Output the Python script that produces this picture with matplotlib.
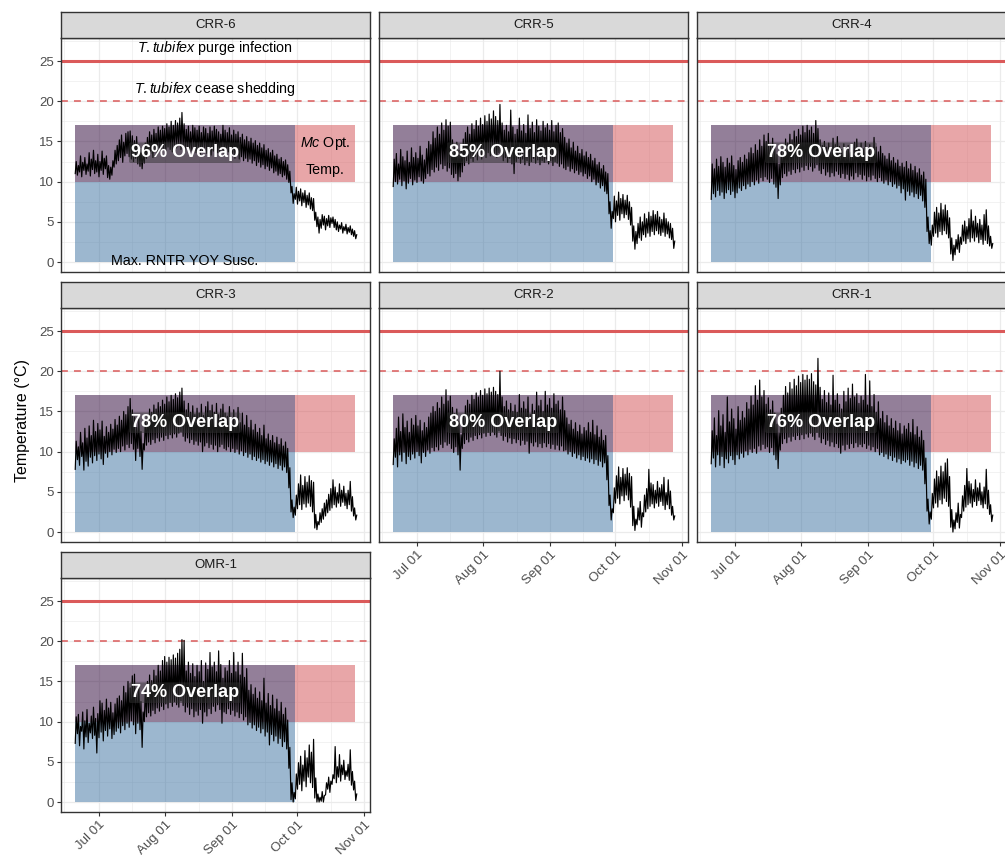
import numpy as np
import matplotlib
matplotlib.use('Agg')
import matplotlib.pyplot as plt
import matplotlib.dates as mdates

plt.rcParams['font.family'] = ['Liberation Sans', 'DejaVu Sans']
plt.rcParams['mathtext.fontset'] = 'custom'
plt.rcParams['mathtext.rm'] = 'Liberation Sans'
plt.rcParams['mathtext.it'] = 'Liberation Sans:italic'

# logger record starts Jun 20, one low/high pair per day
start = '2021-06-20'
susc_end = '2021-09-30'
opt_end = '2021-10-28'

sites = ['CRR-6', 'CRR-5', 'CRR-4', 'CRR-3', 'CRR-2', 'CRR-1', 'OMR-1']
overlap_pct = [96, 85, 78, 78, 80, 76, 74]

purge_temp = 25
shed_temp = 20
susc_range = (0, 17)
mc_opt_range = (10, 17)

crr6_lo = [11.0, 10.8, 11.2, 10.6, 11.4, 10.9, 11.3, 10.7, 11.5, 11.0,
           11.2, 10.6, 11.4, 10.9, 11.6, 10.5, 10.3, 10.8, 11.8, 12.2,
           12.6, 13.0, 12.4, 13.2, 13.5, 13.1, 12.8, 12.5, 12.9, 12.2,
           11.9, 11.6, 12.3, 12.9, 13.2, 13.5, 13.0, 13.8, 13.4, 13.9,
           13.6, 14.1, 13.8, 14.3, 14.0, 13.7, 14.4, 14.2, 14.6, 14.0,
           14.3, 13.8, 14.1, 13.5, 13.9, 14.2, 13.6, 14.0, 13.4, 13.8,
           14.1, 13.5, 13.9, 13.3, 13.8, 14.0, 13.6, 13.2, 13.9, 13.5,
           13.2, 13.7, 13.0, 13.4, 12.9, 13.3, 12.8, 13.1, 12.6, 12.9,
           12.5, 12.8, 12.3, 12.6, 12.0, 12.4, 11.8, 12.1, 11.6, 11.9,
           11.4, 11.7, 11.1, 11.3, 10.8, 11.0, 10.6, 10.8, 10.3, 9.9,
           8.6, 7.3, 7.8, 7.2, 7.6, 7.0, 7.4, 6.8, 7.1, 6.6,
           6.4, 5.2, 4.4, 3.6, 4.2, 4.6, 4.0, 4.5, 4.3, 4.8,
           4.3, 4.0, 3.8, 4.1, 3.6, 3.9, 3.5, 3.7, 3.4, 3.2, 2.9]
crr6_hi = [12.5, 12.0, 13.2, 12.4, 13.0, 12.2, 13.6, 12.8, 13.9, 12.6,
           13.4, 12.5, 13.8, 12.9, 13.2, 12.0, 11.8, 12.6, 13.9, 14.5,
           15.2, 15.8, 14.9, 16.0, 16.2, 16.3, 15.7, 15.1, 15.6, 14.6,
           14.0, 13.6, 14.8, 15.5, 16.2, 15.8, 16.5, 16.0, 16.8, 16.4,
           16.9, 16.6, 17.2, 16.8, 17.5, 17.0, 17.6, 17.3, 17.9, 18.6,
           17.2, 16.5, 16.9, 16.2, 17.0, 16.7, 16.4, 16.9, 16.1, 16.8,
           16.6, 16.0, 16.8, 16.3, 16.9, 16.5, 16.2, 15.9, 17.0, 16.4,
           16.1, 16.7, 15.8, 16.4, 15.9, 16.2, 15.5, 15.9, 15.2, 15.6,
           15.0, 15.4, 14.8, 15.1, 14.5, 14.8, 14.2, 14.6, 13.9, 14.1,
           13.6, 13.9, 13.2, 13.4, 12.8, 13.0, 12.5, 12.7, 12.1, 11.3,
           9.4, 8.5, 9.3, 8.8, 9.1, 8.6, 8.9, 8.3, 8.6, 8.0,
           7.9, 6.2, 5.6, 5.3, 5.9, 5.7, 5.4, 5.8, 5.5, 5.6,
           5.3, 5.0, 4.6, 4.9, 4.4, 4.7, 4.3, 4.5, 4.1, 3.9, 3.4]

crr5_lo = [9.4, 10.0, 9.7, 10.3, 9.5, 10.1, 9.1, 9.8, 10.4, 9.6,
           10.2, 9.9, 10.6, 10.1, 9.8, 10.4, 11.0, 10.7, 11.5, 11.2,
           11.8, 11.4, 12.2, 11.6, 12.0, 11.3, 11.7, 10.9, 10.5, 11.0,
           10.1, 10.6, 11.2, 12.0, 12.6, 12.2, 12.9, 12.5, 13.1, 12.7,
           13.3, 12.8, 13.5, 13.0, 13.6, 13.2, 13.8, 13.4, 13.0, 13.6,
           13.2, 12.6, 13.0, 12.4, 12.9, 12.2, 11.0, 12.5, 12.9, 12.3,
           12.8, 12.1, 12.6, 12.0, 12.5, 12.9, 12.3, 12.7, 12.1, 12.6,
           12.4, 12.8, 12.2, 12.6, 12.0, 12.5, 12.3, 11.9, 12.2, 11.7,
           11.5, 11.9, 11.3, 11.6, 11.1, 11.4, 10.9, 11.2, 10.7, 11.0,
           10.4, 10.7, 10.0, 10.3, 9.6, 9.9, 9.2, 9.5, 8.8, 8.5,
           6.0, 4.2, 5.4, 5.0, 5.8, 5.2, 6.0, 5.5, 5.9, 5.3,
           4.6, 2.6, 1.6, 2.3, 3.0, 2.7, 3.4, 3.1, 3.6, 3.2,
           3.8, 3.4, 3.9, 3.5, 3.3, 3.7, 3.2, 3.5, 3.0, 2.8, 1.7]
crr5_hi = [12.8, 13.5, 12.2, 14.0, 13.1, 12.6, 13.8, 12.4, 14.2, 13.0,
           13.6, 12.9, 14.4, 13.3, 12.7, 14.1, 15.0, 14.6, 16.2, 15.4,
           16.8, 15.9, 17.3, 16.4, 17.7, 16.9, 17.4, 15.2, 14.3, 14.9,
           13.9, 14.6, 15.3, 16.1, 16.8, 15.9, 17.2, 16.5, 17.6, 16.9,
           17.9, 17.1, 18.2, 17.5, 18.4, 17.8, 18.8, 18.1, 17.6, 19.6,
           17.3, 16.4, 17.0, 16.2, 18.9, 16.8, 15.9, 16.5, 17.9, 16.3,
           17.1, 16.0, 18.3, 16.6, 17.4, 16.1, 17.7, 16.9, 16.3, 17.5,
           16.7, 17.2, 16.4, 17.6, 16.2, 17.0, 17.3, 16.1, 16.6, 15.5,
           14.8, 15.3, 14.2, 14.9, 13.8, 14.4, 13.5, 14.0, 13.2, 13.7,
           13.0, 13.4, 12.6, 12.9, 12.1, 12.4, 11.6, 12.0, 11.2, 11.0,
           7.5, 6.3, 8.2, 7.6, 8.7, 7.9, 8.4, 7.7, 8.3, 7.5,
           6.8, 4.5, 3.8, 4.8, 5.6, 5.0, 6.0, 5.4, 6.2, 5.7,
           6.4, 5.9, 6.3, 5.6, 5.3, 6.1, 5.4, 5.0, 4.8, 4.2, 2.6]

crr4_lo = [7.8, 8.5, 8.1, 8.9, 8.3, 8.7, 7.9, 8.6, 9.0, 8.4,
           8.8, 8.0, 8.6, 9.2, 8.9, 9.5, 9.1, 9.7, 9.4, 10.0,
           9.6, 10.2, 9.8, 10.5, 10.1, 10.6, 10.3, 9.9, 10.4, 9.7,
           9.3, 7.9, 9.6, 10.5, 11.0, 10.7, 11.3, 10.9, 11.5, 11.1,
           11.6, 11.2, 11.8, 11.4, 12.0, 11.5, 11.9, 11.3, 11.7, 12.1,
           11.4, 11.0, 11.6, 10.8, 11.2, 10.6, 11.1, 10.7, 11.3, 10.9,
           10.5, 11.0, 10.4, 10.9, 10.2, 10.7, 10.3, 11.1, 10.6, 10.9,
           10.3, 10.8, 10.1, 10.6, 10.2, 10.8, 10.4, 10.0, 10.5, 10.1,
           9.8, 10.2, 9.6, 10.0, 9.4, 9.7, 9.2, 9.5, 8.6, 9.1,
           7.7, 8.8, 8.3, 8.7, 8.1, 8.5, 7.9, 8.3, 7.6, 6.8,
           3.8, 2.3, 2.1, 3.2, 3.6, 3.1, 3.8, 3.4, 3.9, 3.5,
           3.0, 1.0, 0.2, 0.9, 1.6, 1.2, 2.2, 2.6, 2.3, 2.9,
           2.5, 3.0, 2.6, 3.1, 2.4, 2.8, 2.2, 2.7, 2.3, 2.0, 1.7]
crr4_hi = [12.2, 11.6, 12.8, 11.9, 13.1, 12.4, 11.8, 12.9, 12.3, 13.2,
           12.0, 11.5, 12.6, 13.0, 12.4, 13.3, 12.8, 13.6, 14.2, 13.5,
           14.6, 13.9, 15.2, 14.4, 15.8, 15.0, 16.0, 14.6, 15.4, 14.1,
           13.4, 12.2, 13.8, 14.6, 15.3, 14.8, 15.9, 15.2, 16.3, 15.6,
           16.5, 15.8, 16.9, 16.1, 17.0, 16.4, 16.8, 16.0, 17.6, 16.6,
           15.2, 14.5, 15.0, 14.3, 14.8, 14.1, 15.4, 14.6, 15.6, 14.4,
           14.0, 14.7, 13.8, 14.5, 13.6, 14.3, 14.9, 15.3, 14.2, 14.8,
           14.1, 15.0, 13.9, 14.6, 14.0, 15.5, 14.3, 13.7, 14.4, 13.5,
           13.2, 12.8, 13.5, 12.6, 13.0, 12.3, 12.7, 11.9, 12.3, 11.8,
           12.5, 11.6, 12.2, 11.4, 11.9, 11.1, 11.6, 10.8, 11.2, 10.3,
           5.6, 3.9, 4.6, 6.2, 6.8, 6.1, 7.3, 6.5, 7.1, 6.4,
           5.5, 3.0, 2.1, 2.8, 3.4, 3.1, 4.6, 5.1, 4.4, 5.4,
           6.5, 5.1, 5.7, 4.8, 5.3, 4.6, 5.9, 6.5, 4.5, 3.2, 2.3]

crr3_lo = [7.8, 9.0, 8.3, 9.4, 7.7, 8.8, 8.2, 9.3, 8.6, 9.5,
           8.9, 9.7, 9.1, 8.4, 9.8, 9.3, 10.0, 9.6, 10.3, 9.9,
           10.4, 10.0, 10.7, 10.2, 10.9, 10.5, 11.0, 10.3, 8.9, 10.4,
           9.4, 7.8, 10.2, 10.8, 11.2, 10.9, 11.5, 11.1, 11.7, 11.3,
           11.8, 11.4, 12.0, 11.6, 12.1, 11.7, 12.2, 11.8, 12.3, 12.5,
           11.9, 11.3, 11.7, 11.1, 11.5, 10.9, 11.3, 10.8, 11.2, 10.0,
           10.7, 11.1, 10.5, 10.9, 10.3, 10.8, 10.0, 10.6, 10.9, 10.4,
           10.2, 10.6, 10.0, 10.4, 9.9, 10.3, 9.7, 10.1, 9.5, 9.9,
           9.3, 9.7, 9.0, 9.4, 8.9, 9.2, 8.7, 9.0, 8.5, 8.8,
           8.3, 8.7, 8.1, 8.5, 7.9, 8.3, 7.7, 8.1, 7.4, 5.5,
           2.5, 1.8, 2.1, 2.9, 3.4, 2.8, 3.5, 3.1, 3.6, 3.2,
           2.5, 0.5, 0.3, 0.9, 1.2, 1.6, 2.0, 2.4, 2.7, 3.0,
           3.4, 3.1, 3.6, 3.2, 3.7, 3.3, 2.9, 3.4, 2.6, 2.0, 1.5]
crr3_hi = [11.3, 10.6, 12.4, 11.1, 12.9, 11.7, 13.2, 12.0, 13.9, 12.5,
           13.5, 12.7, 13.8, 11.9, 13.1, 12.4, 13.4, 12.8, 14.0, 13.3,
           14.4, 13.9, 15.0, 14.6, 15.6, 16.6, 15.2, 14.3, 13.0, 14.1,
           12.5, 11.0, 13.8, 14.6, 15.3, 14.9, 15.8, 15.3, 16.1, 15.6,
           16.4, 15.9, 16.8, 16.2, 17.0, 16.5, 17.2, 16.7, 17.4, 17.9,
           16.3, 15.2, 16.0, 14.9, 15.7, 14.6, 15.4, 14.8, 15.9, 14.5,
           15.6, 16.2, 15.1, 15.8, 14.9, 16.0, 14.6, 15.3, 15.9, 14.8,
           14.4, 15.6, 14.1, 15.2, 13.9, 15.5, 13.6, 14.8, 13.3, 14.5,
           13.0, 13.9, 12.7, 13.4, 12.4, 12.9, 12.0, 13.3, 11.6, 12.2,
           11.4, 12.0, 11.1, 11.8, 10.9, 11.6, 10.7, 11.2, 10.4, 8.0,
           4.0, 3.1, 4.6, 6.0, 7.1, 5.8, 6.9, 6.2, 7.0, 6.4,
           6.2, 2.2, 1.3, 2.4, 2.9, 3.6, 4.0, 4.7, 5.4, 6.5,
           5.6, 4.9, 6.0, 5.2, 5.7, 4.8, 5.2, 6.3, 4.4, 3.0, 2.1]

crr2_lo = [8.4, 9.3, 8.1, 9.6, 8.8, 9.9, 8.5, 9.4, 9.0, 9.7,
           9.2, 10.0, 9.5, 8.6, 9.9, 9.4, 10.2, 9.8, 10.5, 10.1,
           10.6, 10.2, 10.9, 10.5, 11.2, 10.8, 11.0, 10.4, 9.9, 10.6,
           9.6, 7.7, 10.4, 11.0, 11.5, 11.2, 11.8, 11.4, 12.0, 11.6,
           12.1, 11.7, 12.3, 11.9, 12.4, 12.0, 12.5, 12.1, 11.8, 12.6,
           12.0, 11.4, 11.9, 11.2, 11.7, 11.0, 11.6, 11.1, 11.5, 10.8,
           11.4, 10.9, 11.3, 9.8, 11.1, 10.7, 11.2, 10.6, 11.0, 10.5,
           11.1, 10.6, 11.0, 10.4, 10.9, 10.3, 10.8, 10.2, 10.7, 10.1,
           10.2, 9.7, 10.0, 9.4, 9.8, 9.2, 9.6, 9.0, 9.4, 8.9,
           9.2, 8.7, 9.1, 8.5, 9.0, 8.3, 8.8, 8.1, 8.6, 6.5,
           3.3, 1.5, 2.4, 3.6, 4.2, 3.5, 4.5, 3.9, 4.6, 4.0,
           3.1, 0.8, 0.2, 0.9, 1.5, 0.6, 1.9, 2.5, 2.9, 3.2,
           3.5, 3.0, 3.6, 3.2, 3.8, 3.3, 2.8, 3.4, 2.9, 2.1, 1.5]
crr2_hi = [11.6, 12.9, 14.3, 12.5, 14.7, 13.0, 13.8, 12.4, 14.1, 13.3,
           14.5, 13.2, 13.9, 12.6, 13.6, 13.0, 14.3, 14.8, 15.6, 15.0,
           16.1, 15.4, 16.8, 15.9, 17.7, 16.3, 16.9, 15.5, 14.7, 15.3,
           13.8, 12.1, 14.6, 15.7, 16.4, 15.9, 17.0, 16.5, 17.3, 16.8,
           17.6, 17.0, 17.8, 17.2, 17.9, 17.4, 18.0, 17.5, 17.1, 20.0,
           16.8, 15.6, 16.3, 15.2, 16.0, 15.0, 15.8, 14.9, 17.1, 15.4,
           16.2, 15.3, 16.8, 14.6, 15.9, 15.1, 17.4, 15.7, 16.4, 15.0,
           17.5, 15.8, 16.6, 15.4, 17.2, 15.9, 16.3, 15.2, 16.8, 15.1,
           14.2, 13.4, 13.9, 12.8, 13.6, 12.5, 13.3, 12.2, 13.0, 12.6,
           13.6, 12.4, 13.9, 12.1, 13.2, 11.8, 12.7, 11.4, 12.0, 9.5,
           4.6, 2.9, 5.5, 7.0, 8.1, 6.8, 7.9, 7.2, 8.0, 7.3,
           6.9, 3.2, 1.6, 3.0, 3.8, 2.4, 4.6, 5.4, 7.8, 6.1,
           5.9, 5.2, 6.3, 5.5, 5.9, 6.8, 4.9, 6.5, 5.1, 3.2, 2.0]

crr1_lo = [8.5, 9.2, 8.1, 9.6, 8.3, 9.4, 8.0, 9.1, 8.6, 9.5,
           9.0, 8.4, 9.6, 9.1, 9.8, 9.3, 10.1, 9.6, 10.3, 9.9,
           10.4, 9.8, 10.7, 10.2, 10.9, 10.4, 10.6, 9.9, 10.5, 9.6,
           9.0, 7.9, 10.2, 11.0, 11.6, 11.1, 11.8, 11.3, 11.9, 11.5,
           12.0, 11.5, 12.1, 11.6, 12.2, 11.8, 12.3, 11.9, 11.5, 12.4,
           11.8, 11.1, 11.6, 10.9, 11.4, 10.7, 11.2, 10.6, 11.0, 10.5,
           9.8, 10.8, 10.2, 10.9, 10.4, 11.0, 10.5, 11.1, 10.6, 10.9,
           10.6, 11.0, 10.4, 10.8, 10.2, 10.6, 10.0, 10.4, 9.6, 9.9,
           9.4, 9.7, 9.1, 9.5, 8.9, 9.3, 8.7, 9.1, 8.5, 8.9,
           8.7, 9.0, 8.3, 8.8, 8.1, 8.6, 7.9, 8.3, 7.7, 6.0,
           2.6, 1.0, 1.6, 3.0, 3.6, 3.1, 4.0, 3.5, 4.2, 3.8,
           3.2, 0.6, 0.0, 0.4, 1.2, 0.5, 1.8, 2.6, 3.1, 3.4,
           3.6, 3.1, 3.8, 3.3, 3.9, 3.4, 3.0, 3.5, 2.9, 2.2, 1.3]
crr1_hi = [12.6, 14.2, 12.0, 15.1, 13.2, 14.6, 12.4, 16.8, 13.7, 15.3,
           14.1, 12.8, 15.6, 13.9, 15.0, 14.2, 16.1, 15.3, 16.9, 15.8,
           18.2, 16.4, 18.9, 16.8, 17.6, 15.9, 16.7, 15.2, 16.3, 14.8,
           13.4, 12.3, 15.4, 17.0, 18.1, 17.3, 18.6, 17.8, 19.0, 18.2,
           19.4, 18.6, 19.6, 18.9, 19.5, 19.0, 19.7, 18.7, 18.3, 21.6,
           18.0, 16.5, 17.6, 16.1, 17.3, 15.8, 19.5, 16.4, 17.2, 15.9,
           15.3, 17.5, 16.2, 17.9, 16.6, 18.4, 16.8, 17.2, 16.0, 16.9,
           16.4, 19.6, 15.8, 18.8, 15.6, 17.1, 14.9, 16.2, 14.1, 15.0,
           13.6, 14.5, 13.2, 14.1, 12.9, 13.8, 12.6, 13.5, 12.2, 13.2,
           12.8, 13.5, 12.4, 14.0, 12.1, 13.1, 11.8, 12.6, 11.4, 9.2,
           4.1, 2.5, 4.8, 6.6, 7.6, 6.9, 8.2, 7.5, 8.6, 9.1,
           6.9, 2.8, 1.5, 2.4, 3.6, 2.2, 4.5, 5.8, 7.9, 6.3,
           6.0, 5.3, 6.5, 5.5, 6.1, 5.0, 5.6, 7.8, 5.2, 3.4, 2.1]

omr1_lo = [7.3, 8.5, 7.0, 8.8, 6.6, 8.1, 7.4, 8.6, 7.9, 8.3,
           6.1, 8.0, 8.7, 7.6, 8.9, 8.2, 9.1, 7.9, 8.4, 8.8,
           9.2, 8.6, 9.5, 9.0, 9.8, 9.3, 10.1, 9.6, 8.5, 9.8,
           9.0, 6.8, 10.0, 10.6, 11.1, 10.7, 11.4, 11.0, 11.7, 11.3,
           11.9, 11.5, 12.2, 11.7, 12.4, 11.9, 12.5, 12.1, 11.8, 12.6,
           12.0, 11.2, 11.8, 10.9, 11.6, 10.6, 11.3, 10.8, 11.5, 9.8,
           11.2, 10.7, 11.6, 11.0, 11.9, 11.3, 12.1, 11.5, 9.8, 11.2,
           11.0, 11.6, 10.9, 11.4, 10.7, 11.2, 10.5, 11.0, 10.2, 10.6,
           9.6, 9.9, 9.2, 9.6, 8.9, 9.3, 8.6, 9.1, 8.2, 8.7,
           7.1, 8.4, 7.6, 8.2, 7.3, 7.9, 6.9, 7.5, 6.6, 4.2,
           0.3, 0.0, 0.4, 1.6, 2.2, 1.4, 2.6, 1.9, 3.1, 2.4,
           1.8, 0.5, 0.0, 0.0, 0.1, 0.0, 0.9, 1.6, 1.2, 2.2,
           2.9, 2.4, 3.1, 2.6, 3.4, 2.8, 3.2, 2.7, 2.1, 1.5, 0.2]
omr1_hi = [10.6, 10.9, 9.4, 11.2, 10.1, 11.5, 9.8, 10.7, 11.8, 10.4,
           11.0, 12.6, 12.3, 11.4, 12.8, 11.7, 12.4, 11.1, 12.2, 12.9,
           13.2, 12.6, 14.4, 13.6, 15.0, 14.2, 15.7, 15.9, 13.8, 14.6,
           12.5, 11.2, 13.9, 15.0, 15.8, 15.1, 16.4, 15.7, 17.0, 16.3,
           17.6, 18.1, 17.4, 18.0, 17.7, 18.3, 17.9, 18.5, 19.0, 20.2,
           20.1, 16.3, 17.4, 16.0, 17.2, 15.6, 17.0, 16.2, 17.6, 15.0,
           17.3, 16.5, 18.6, 16.8, 17.4, 16.2, 18.8, 17.1, 15.4, 16.7,
           16.3, 17.6, 16.0, 18.6, 16.2, 17.4, 15.8, 18.5, 15.5, 16.6,
           13.9, 14.6, 13.4, 14.2, 12.9, 13.7, 12.6, 15.4, 12.3, 13.5,
           12.0, 13.3, 11.6, 12.8, 11.3, 12.4, 10.9, 11.7, 10.2, 6.8,
           2.4, 1.2, 3.5, 4.9, 5.7, 4.6, 6.4, 5.5, 7.1, 6.2,
           7.8, 3.0, 1.0, 0.6, 1.3, 0.8, 2.4, 3.1, 2.6, 3.4,
           6.9, 4.4, 5.9, 4.6, 5.2, 3.9, 4.7, 6.5, 3.8, 2.6, 1.0]

daily_lo = [crr6_lo, crr5_lo, crr4_lo, crr3_lo, crr2_lo, crr1_lo, omr1_lo]
daily_hi = [crr6_hi, crr5_hi, crr4_hi, crr3_hi, crr2_hi, crr1_hi, omr1_hi]

t0 = mdates.datestr2num(start)
t_susc = mdates.datestr2num(susc_end)
t_opt = mdates.datestr2num(opt_end)

# figure geometry in pixels (facet_wrap, 3 columns)
W, H = 1005, 857
col_left = [61, 379, 697]
row_top = [37.7, 307.7, 577.7]
pw, ph, sh = 309, 234, 26

red = '#DB5A5A'
months = [mdates.datestr2num(d) for d in
          ['2021-07-01', '2021-08-01', '2021-09-01', '2021-10-01', '2021-11-01']]
minor_x = [mdates.datestr2num('2021-06-15')] + \
          [(a + b) / 2 for a, b in zip(months[:-1], months[1:])]

fig = plt.figure(figsize=(W / 100, H / 100), dpi=100)

for i, site in enumerate(sites):
    r, c = divmod(i, 3)
    left = col_left[c] / W
    bottom = 1 - (row_top[r] + ph) / H
    ax = fig.add_axes([left, bottom, pw / W, ph / H])

    lo = np.array(daily_lo[i])
    hi = np.array(daily_hi[i])
    days = np.arange(len(lo))
    t = np.column_stack([t0 + days + 0.2, t0 + days + 0.65]).ravel()
    temp = np.column_stack([lo, hi]).ravel()

    # susceptibility window, Mc optimum band and their overlap
    ax.fill_between([t0, t_susc], susc_range[0], mc_opt_range[0],
                    color='#3B71A1', alpha=0.5, lw=0)
    ax.fill_between([t0, t_susc], mc_opt_range[0], susc_range[1],
                    color='#290035', alpha=0.5, lw=0)
    ax.fill_between([t_susc, t_opt], mc_opt_range[0], mc_opt_range[1],
                    color='#D34F53', alpha=0.5, lw=0)

    ax.axhline(purge_temp, color=red, lw=2.2, zorder=1.5)
    ax.axhline(shed_temp, color=red, lw=1.1, ls=(0, (4.5, 4)), zorder=1.5)

    ax.plot(t, temp, color='black', lw=0.85, zorder=3)

    ax.text((t0 + t_susc) / 2, 13.6, f'{overlap_pct[i]}% Overlap',
            color='white', fontsize=13, fontweight='bold',
            ha='center', va='center', zorder=4,
            bbox=dict(boxstyle='round,pad=0.1', fc='#333333', ec='none', alpha=0.5))

    if i == 0:
        mid = (t0 + t_opt) / 2
        ax.text(mid, 26.6, r'$\mathit{T.tubifex}$ purge infection',
                fontsize=10.3, ha='center', va='center', color='black')
        ax.text(mid, 21.5, r'$\mathit{T.tubifex}$ cease shedding',
                fontsize=10.3, ha='center', va='center', color='black')
        ax.text((t0 + t_susc) / 2, 0.1, 'Max. RNTR YOY Susc.',
                fontsize=10.3, ha='center', va='center', color='black')
        ax.text((t_susc + t_opt) / 2, 14.8, r'$\mathit{Mc}$ Opt.',
                fontsize=10.3, ha='center', va='center', color='black')
        ax.text((t_susc + t_opt) / 2, 11.4, 'Temp.',
                fontsize=10.3, ha='center', va='center', color='black')

    ax.set_xlim(t0 - 6.4, t0 + 136.8)
    ax.set_ylim(-1.2, 27.9)
    ax.set_xticks(months)
    ax.set_xticks(minor_x, minor=True)
    ax.set_yticks([0, 5, 10, 15, 20, 25])
    ax.set_yticks([2.5, 7.5, 12.5, 17.5, 22.5, 27.5], minor=True)
    ax.xaxis.set_major_formatter(mdates.DateFormatter('%b %d'))

    ax.set_axisbelow(True)
    ax.grid(which='major', color='#EBEBEB', lw=0.9)
    ax.grid(which='minor', color='#EBEBEB', lw=0.45)
    for s in ax.spines.values():
        s.set_color('#333333')
        s.set_linewidth(1.0)
    ax.tick_params(which='major', length=3.2, width=0.8, color='#333333',
                   labelcolor='#4D4D4D', labelsize=9.5, pad=2)
    ax.tick_params(which='minor', length=0)

    has_below = i + 3 < len(sites)
    if has_below:
        ax.tick_params(axis='x', which='major', length=0, labelbottom=False)
    else:
        for lab in ax.get_xticklabels():
            lab.set_rotation(45)
            lab.set_ha('right')
            lab.set_rotation_mode('anchor')
    if c > 0:
        ax.tick_params(axis='y', which='major', length=0, labelleft=False)

    # facet strip
    sax = fig.add_axes([left, 1 - row_top[r] / H, pw / W, sh / H])
    sax.set_facecolor('#D9D9D9')
    sax.set_xticks([])
    sax.set_yticks([])
    for s in sax.spines.values():
        s.set_color('#333333')
        s.set_linewidth(1.0)
    sax.text(0.5, 0.5, site, ha='center', va='center', fontsize=9.5,
             color='#1A1A1A', transform=sax.transAxes)

fig.text(22 / W, 1 - 421 / H, 'Temperature (°C)', rotation=90,
         ha='center', va='center', fontsize=11.5)

fig.savefig('out.png', dpi=100)
